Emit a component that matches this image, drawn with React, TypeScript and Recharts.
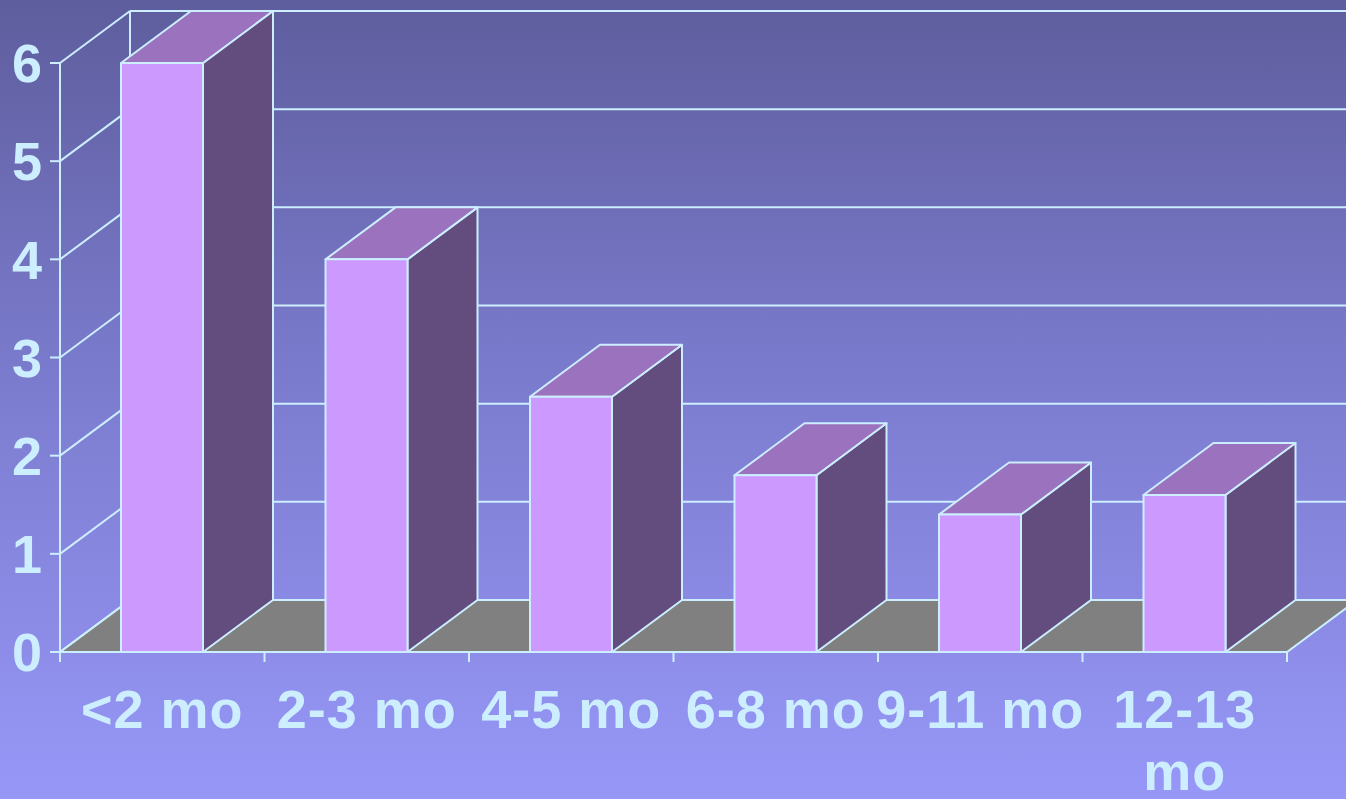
import React from "react";
import {
  BarChart,
  Bar,
  XAxis,
  YAxis,
  ReferenceArea,
  ReferenceLine,
} from "recharts";

const categories = ["<2 mo", "2-3 mo", "4-5 mo", "6-8 mo", "9-11 mo", "12-13 mo"];
const values = [6, 4, 2.6, 1.8, 1.4, 1.6];
const yTicks = [0, 1, 2, 3, 4, 5, 6];

const EDGE = "#CCEEFF";
const FONT = "'Liberation Sans', Arial, sans-serif";
// depth of the fake 3D box
const DX = 70;
const DY = 52;

const data = categories.map((name, i) => ({ name, value: values[i] }));

// floor + left wall outline, drawn from the plot rectangle
const Walls = (props: any) => {
  const { x, y, width, height } = props;
  const bottom = y + height;
  return (
    <g>
      <polygon
        points={`${x},${bottom} ${x + width},${bottom} ${x + width + DX},${bottom - DY} ${x + DX},${bottom - DY}`}
        fill="#808080"
        stroke={EDGE}
        strokeWidth={2}
      />
      <line x1={x + DX} y1={y - DY} x2={x + DX} y2={bottom - DY} stroke={EDGE} strokeWidth={2} />
    </g>
  );
};

// each gridline: diagonal on the side wall, then along the back wall
const GridLine = (props: any) => {
  const { x1, y1, x2 } = props;
  if (x1 == null || y1 == null) return null;
  return (
    <g>
      <line x1={x1} y1={y1} x2={x1 + DX} y2={y1 - DY} stroke={EDGE} strokeWidth={2} />
      <line x1={x1 + DX} y1={y1 - DY} x2={x2 + DX} y2={y1 - DY} stroke={EDGE} strokeWidth={2} />
    </g>
  );
};

const Box = (props: any) => {
  const { x, y, width, height } = props;
  if (height == null || width == null) return null;
  const r = x + width;
  const b = y + height;
  return (
    <g stroke={EDGE} strokeWidth={2} strokeLinejoin="round">
      <polygon points={`${r},${y} ${r + DX},${y - DY} ${r + DX},${b - DY} ${r},${b}`} fill="#634D7E" />
      <polygon points={`${x},${y} ${x + DX},${y - DY} ${r + DX},${y - DY} ${r},${y}`} fill="#9B72BD" />
      <rect x={x} y={y} width={width} height={height} fill="#CC99FF" />
    </g>
  );
};

const XTick = (props: any) => {
  const { x, y, payload, index } = props;
  const half = payload?.offset ?? 0;
  const label = String(payload.value);
  const lines = label.length > 7 ? label.split(" ") : [label];
  return (
    <g>
      <line x1={x - half} y1={y} x2={x - half} y2={y + 10} stroke={EDGE} strokeWidth={2} />
      {index === categories.length - 1 && (
        <line x1={x + half} y1={y} x2={x + half} y2={y + 10} stroke={EDGE} strokeWidth={2} />
      )}
      <text
        x={x}
        y={y + 76}
        textAnchor="middle"
        fill={EDGE}
        fontSize={54}
        fontWeight="bold"
        fontFamily={FONT}
        letterSpacing={1}
      >
        {lines.map((l, i) => (
          <tspan key={i} x={x} dy={i === 0 ? 0 : 62}>
            {l}
          </tspan>
        ))}
      </text>
    </g>
  );
};

export default function App() {
  return (
    <div
      style={{
        position: "absolute",
        left: 0,
        top: 0,
        width: 1346,
        height: 799,
        background: "linear-gradient(to bottom, #5E5D9D 0%, #7A7ACC 45%, #9797F8 100%)",
        overflow: "hidden",
      }}
    >
      <BarChart
        width={1346}
        height={799}
        data={data}
        margin={{ top: 63, right: 59, left: 0, bottom: 0 }}
      >
        <ReferenceArea y1={0} y2={6} shape={Walls} zIndex={-20} ifOverflow="visible" />
        {yTicks.map((t) => (
          <ReferenceLine key={t} y={t} shape={GridLine} zIndex={-10} ifOverflow="visible" />
        ))}
        <XAxis
          dataKey="name"
          height={147}
          tickSize={0}
          tickMargin={0}
          interval={0}
          tickLine={false}
          axisLine={{ stroke: EDGE, strokeWidth: 2 }}
          tick={<XTick />}
        />
        <YAxis
          width={60}
          domain={[0, 6]}
          ticks={yTicks}
          interval={0}
          tickSize={10}
          tickMargin={8}
          axisLine={{ stroke: EDGE, strokeWidth: 2 }}
          tickLine={{ stroke: EDGE, strokeWidth: 2 }}
          tick={{ fill: EDGE, fontSize: 54, fontWeight: "bold", fontFamily: FONT }}
        />
        <Bar dataKey="value" barSize={82} shape={Box} isAnimationActive={false} />
      </BarChart>
    </div>
  );
}
